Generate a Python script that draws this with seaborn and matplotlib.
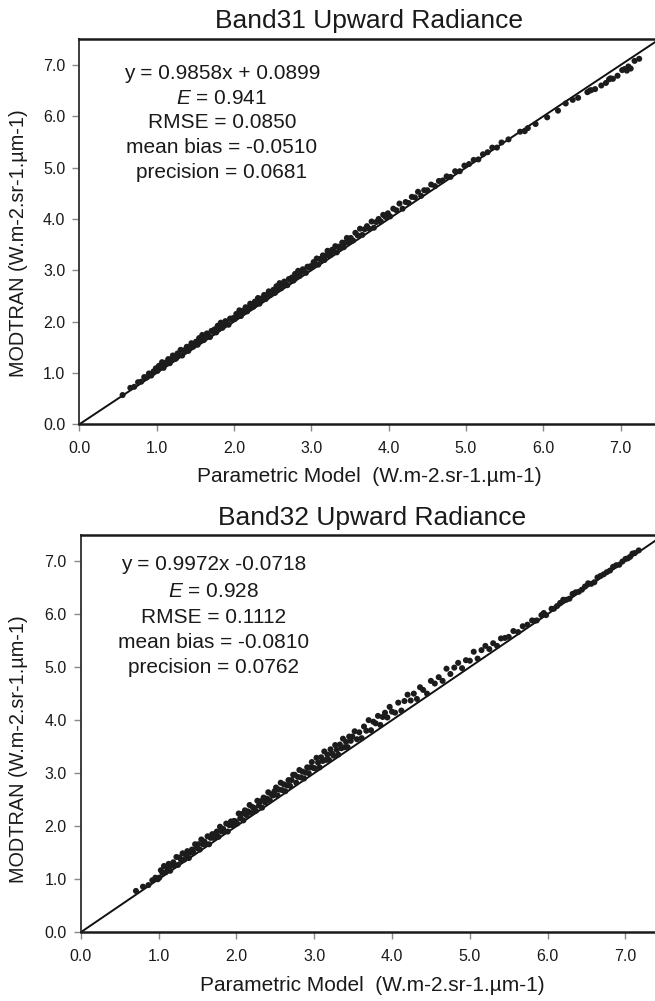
import numpy as np
import pandas as pd
import matplotlib
matplotlib.use("Agg")
import matplotlib.pyplot as plt
import seaborn as sns

# ---------------- data ----------------
titles = ["Band31 Upward Radiance", "Band32 Upward Radiance"]
x_label = "Parametric Model  (W.m-2.sr-1.\u00b5m-1)"
y_label = "MODTRAN (W.m-2.sr-1.\u00b5m-1)"
tick_vals = [0, 1, 2, 3, 4, 5, 6, 7]
axis_lim = [0, 7.5]

stats31 = ["y = 0.9858x + 0.0899", "$E$ = 0.941", "RMSE = 0.0850",
           "mean bias = -0.0510", "precision = 0.0681"]
stats32 = ["y = 0.9972x -0.0718", "$E$ = 0.928", "RMSE = 0.1112",
           "mean bias = -0.0810", "precision = 0.0762"]

# Band31: parametric model (x) vs MODTRAN (y)
x31 = [0.56, 0.66, 0.71, 0.76, 0.80, 0.84, 0.87, 0.90, 0.93, 0.96, 0.99,
       1.01, 1.03, 1.05, 1.07, 1.09, 1.11, 1.13, 1.15, 1.17, 1.19, 1.21, 1.23, 1.25,
       1.27, 1.29, 1.31, 1.33, 1.35, 1.37, 1.39, 1.41, 1.43, 1.45, 1.47, 1.49,
       1.51, 1.53, 1.55, 1.57, 1.59, 1.61, 1.63, 1.65, 1.67, 1.69, 1.71, 1.73, 1.75,
       1.77, 1.79, 1.81, 1.83, 1.85, 1.87, 1.89, 1.91, 1.93, 1.95, 1.97, 1.99,
       2.01, 2.03, 2.05, 2.07, 2.09, 2.11, 2.13, 2.15, 2.17, 2.19, 2.21, 2.23, 2.25,
       2.27, 2.29, 2.31, 2.33, 2.35, 2.37, 2.39, 2.41, 2.43, 2.45, 2.47, 2.49,
       2.51, 2.53, 2.55, 2.57, 2.59, 2.61, 2.63, 2.65, 2.67, 2.69, 2.71, 2.73, 2.75,
       2.77, 2.79, 2.81, 2.83, 2.85, 2.87, 2.89, 2.91, 2.93, 2.95, 2.97, 2.99,
       3.01, 3.03, 3.05, 3.07, 3.09, 3.11, 3.13, 3.15, 3.17, 3.19, 3.21, 3.23,
       3.25, 3.27, 3.29, 3.31, 3.33, 3.35, 3.37, 3.40, 3.42, 3.44, 3.46, 3.48,
       3.51, 3.54, 3.57, 3.60, 3.63, 3.66, 3.69, 3.72, 3.75, 3.78, 3.81, 3.84,
       3.87, 3.90, 3.93, 3.96, 3.99,
       4.02, 4.06, 4.10, 4.14, 4.18, 4.22, 4.26, 4.30, 4.34, 4.38, 4.42, 4.46,
       4.50, 4.55, 4.60, 4.65, 4.70,
       4.75, 4.80, 4.86, 4.92, 4.98, 5.04, 5.10, 5.16, 5.22, 5.28, 5.34, 5.40,
       5.46, 5.55, 5.70, 5.76, 5.80,
       5.90, 6.05, 6.19, 6.29, 6.38, 6.45, 6.57, 6.67, 6.75, 6.81, 6.90, 6.96,
       7.02, 7.08, 7.13, 7.18, 7.24,
       6.60, 6.62, 6.85, 6.87, 7.05, 7.10]
y31 = [0.57, 0.71, 0.73, 0.82, 0.83, 0.92, 0.91, 0.99, 0.95, 1.03, 1.09,
       1.04, 1.14, 1.11, 1.21, 1.10, 1.20, 1.18, 1.27, 1.19, 1.27, 1.34, 1.27, 1.28,
       1.38, 1.35, 1.45, 1.34, 1.44, 1.42, 1.51, 1.43, 1.51, 1.58, 1.51, 1.56,
       1.61, 1.55, 1.68, 1.63, 1.74, 1.64, 1.72, 1.77, 1.72, 1.70, 1.82, 1.80, 1.85,
       1.79, 1.92, 1.87, 1.98, 1.88, 1.96, 2.01, 1.96, 1.94, 2.06, 2.04, 2.07,
       2.05, 2.15, 2.12, 2.22, 2.11, 2.21, 2.19, 2.28, 2.20, 2.28, 2.35, 2.28, 2.29,
       2.39, 2.36, 2.46, 2.35, 2.45, 2.43, 2.52, 2.44, 2.52, 2.59, 2.52, 2.57,
       2.62, 2.56, 2.69, 2.64, 2.75, 2.65, 2.73, 2.78, 2.73, 2.71, 2.83, 2.81, 2.86,
       2.80, 2.93, 2.88, 2.99, 2.89, 2.97, 3.02, 2.97, 2.95, 3.07, 3.05, 3.08,
       3.06, 3.16, 3.13, 3.23, 3.11, 3.22, 3.20, 3.29, 3.20, 3.29, 3.38, 3.29,
       3.30, 3.40, 3.37, 3.47, 3.35, 3.46, 3.44, 3.54, 3.45, 3.54, 3.63, 3.54,
       3.63, 3.58, 3.73, 3.68, 3.81, 3.69, 3.80, 3.86, 3.81, 3.95, 3.83, 3.94,
       4.00, 3.95, 4.08, 4.04, 4.11,
       4.05, 4.20, 4.17, 4.30, 4.20, 4.33, 4.31, 4.43, 4.42, 4.53, 4.45, 4.56,
       4.56, 4.67, 4.64, 4.74, 4.75,
       4.83, 4.82, 4.93, 4.93, 5.04, 5.07, 5.15, 5.16, 5.26, 5.30, 5.39, 5.39,
       5.49, 5.55, 5.70, 5.71, 5.77,
       5.85, 5.98, 6.11, 6.25, 6.32, 6.36, 6.47, 6.53, 6.60, 6.65, 6.73, 6.79,
       6.90, 6.89, 6.93, 7.08, 7.12,
       6.50, 6.51, 6.72, 6.74, 6.92, 6.97]

# Band32: parametric model (x) vs MODTRAN (y)
x32 = [0.71, 0.80, 0.87, 0.92, 0.96, 0.99,
       1.01, 1.03, 1.05, 1.07, 1.09, 1.11, 1.13, 1.15, 1.17, 1.19, 1.21, 1.23, 1.25,
       1.27, 1.29, 1.31, 1.33, 1.35, 1.37, 1.39, 1.41, 1.43, 1.45, 1.47, 1.49,
       1.51, 1.53, 1.55, 1.57, 1.59, 1.61, 1.63, 1.65, 1.67, 1.69, 1.71, 1.73, 1.75,
       1.77, 1.79, 1.81, 1.83, 1.85, 1.87, 1.89, 1.91, 1.93, 1.95, 1.97, 1.99,
       2.01, 2.03, 2.05, 2.07, 2.09, 2.11, 2.13, 2.15, 2.17, 2.19, 2.21, 2.23, 2.25,
       2.27, 2.29, 2.31, 2.33, 2.35, 2.37, 2.39, 2.41, 2.43, 2.45, 2.47, 2.49,
       2.51, 2.53, 2.55, 2.57, 2.59, 2.61, 2.63, 2.65, 2.67, 2.69, 2.71, 2.73, 2.75,
       2.77, 2.79, 2.81, 2.83, 2.85, 2.87, 2.89, 2.91, 2.93, 2.95, 2.97, 2.99,
       3.01, 3.03, 3.05, 3.07, 3.09, 3.11, 3.13, 3.15, 3.17, 3.19, 3.21, 3.23, 3.25,
       3.27, 3.29, 3.31, 3.33, 3.35, 3.37, 3.39, 3.41, 3.43, 3.45, 3.47, 3.49,
       3.52, 3.55, 3.58, 3.61, 3.64, 3.67, 3.70, 3.73, 3.76, 3.79, 3.82, 3.85,
       3.88, 3.91, 3.94, 3.97, 4.00,
       4.04, 4.08, 4.12, 4.16, 4.20, 4.24, 4.28, 4.32, 4.36, 4.40, 4.45, 4.50,
       4.55, 4.60, 4.65, 4.70, 4.75, 4.80,
       4.85, 4.90, 4.95, 5.00, 5.05, 5.10, 5.15, 5.20, 5.25, 5.30, 5.35, 5.40,
       5.45, 5.50, 5.56, 5.62, 5.68, 5.74,
       5.80, 5.86, 5.92, 5.98, 6.05, 6.12, 6.20, 6.28, 6.36, 6.44, 6.52, 6.60,
       6.68, 6.76, 6.84, 6.92, 7.00, 7.06, 7.12, 7.17,
       5.83, 5.95, 6.08, 6.16, 6.24, 6.32, 6.40, 6.48, 6.56, 6.64, 6.72, 6.80,
       6.88, 6.96, 7.03, 7.09]
y32 = [0.78, 0.86, 0.89, 0.98, 1.03, 1.00,
       1.03, 1.17, 1.12, 1.25, 1.13, 1.22, 1.29, 1.16, 1.26, 1.32, 1.26, 1.42, 1.27,
       1.41, 1.36, 1.49, 1.37, 1.46, 1.53, 1.40, 1.50, 1.56, 1.50, 1.66, 1.59,
       1.66, 1.56, 1.75, 1.66, 1.71, 1.66, 1.81, 1.66, 1.78, 1.85, 1.78, 1.86, 1.90,
       1.80, 1.99, 1.90, 1.95, 1.90, 2.05, 1.90, 2.02, 2.09, 2.02, 2.10, 2.09,
       2.05, 2.24, 2.15, 2.23, 2.11, 2.30, 2.21, 2.28, 2.40, 2.25, 2.36, 2.34, 2.29,
       2.48, 2.39, 2.47, 2.35, 2.54, 2.45, 2.52, 2.64, 2.49, 2.60, 2.58, 2.66,
       2.73, 2.58, 2.69, 2.82, 2.68, 2.79, 2.66, 2.77, 2.87, 2.76, 2.87, 2.97, 2.97,
       2.82, 2.93, 3.06, 2.92, 3.03, 2.90, 3.01, 3.11, 3.00, 3.11, 3.21, 3.10,
       3.09, 3.29, 3.20, 3.11, 3.30, 3.23, 3.41, 3.25, 3.35, 3.25, 3.45, 3.37, 3.33,
       3.53, 3.44, 3.35, 3.54, 3.47, 3.65, 3.49, 3.59, 3.49, 3.69, 3.61, 3.69,
       3.79, 3.64, 3.77, 3.66, 3.88, 3.80, 4.00, 3.81, 3.97, 3.94, 4.08, 3.91,
       4.06, 4.14, 4.05, 4.25, 4.16,
       4.14, 4.33, 4.18, 4.36, 4.48, 4.37, 4.50, 4.40, 4.62, 4.57, 4.50, 4.74,
       4.69, 4.81, 4.74, 4.97, 4.87, 4.99,
       5.08, 4.98, 5.13, 5.12, 5.29, 5.16, 5.32, 5.40, 5.34, 5.45, 5.40, 5.54,
       5.55, 5.57, 5.68, 5.66, 5.77, 5.80,
       5.88, 5.88, 5.98, 5.98, 6.10, 6.15, 6.27, 6.29, 6.41, 6.46, 6.58, 6.60,
       6.72, 6.79, 6.89, 6.93, 7.04, 7.08, 7.15, 7.20,
       5.87, 6.02, 6.10, 6.21, 6.27, 6.38, 6.42, 6.52, 6.57, 6.69, 6.75, 6.82,
       6.92, 6.99, 7.05, 7.14]

# ---------------- style ----------------
sns.set_theme(style="white")
plt.rcParams["font.family"] = ["Liberation Sans", "DejaVu Sans"]
plt.rcParams["mathtext.fontset"] = "custom"
plt.rcParams["mathtext.rm"] = "Liberation Sans"
plt.rcParams["mathtext.it"] = "Liberation Sans:italic"

fig = plt.figure(figsize=(6.55, 10.01), dpi=100)
fig.patch.set_facecolor("white")

W, H = 655.0, 1001.0
# axes boxes in pixels: left, top, right, bottom
boxes = [(79.3, 39.3, 659.3, 424.3), (80.7, 534.5, 664.4, 932.3)]
text_x = [0.246, 0.2275]
text_y = [[0.912, 0.847, 0.783, 0.719, 0.653], [0.925, 0.856, 0.792, 0.728, 0.666]]
title_pads = [8, 7]
ylab_pos = [(-0.088, 0.47), (-0.090, 0.46)]
xlab_pos = [(0.5, -0.112), (0.5, -0.110)]

datasets = [(x31, y31, stats31), (x32, y32, stats32)]

for i, ((xs, ys, stats), (l, t, r, b)) in enumerate(zip(datasets, boxes)):
    ax = fig.add_axes([l / W, (H - b) / H, (r - l) / W, (b - t) / H])
    df = pd.DataFrame({"param": xs, "modtran": ys})
    sns.scatterplot(data=df, x="param", y="modtran", ax=ax, marker="o", s=19,
                    color="#1c1c1c", edgecolor="none", linewidth=0, zorder=3)
    ax.axline((axis_lim[0], axis_lim[0]), slope=1, color="#111111", lw=1.4, zorder=2)
    ax.set_xlim(axis_lim)
    ax.set_ylim(axis_lim)
    ax.set_xticks(tick_vals)
    ax.set_yticks(tick_vals)
    ax.set_xticklabels([f"{v:.1f}" for v in tick_vals])
    ax.set_yticklabels([f"{v:.1f}" for v in tick_vals])
    ax.tick_params(axis="both", which="major", direction="out", length=5, width=1,
                   color="#888888", labelsize=11.5, labelcolor="#1a1a1a")
    ax.tick_params(axis="x", pad=7, bottom=True)
    ax.tick_params(axis="y", pad=5, left=True)
    ax.set_xlabel(x_label, fontsize=15, color="#1a1a1a")
    ax.set_ylabel(y_label, fontsize=14.3, color="#1a1a1a")
    ax.xaxis.set_label_coords(*xlab_pos[i])
    ax.yaxis.set_label_coords(*ylab_pos[i])
    ax.set_title(titles[i], fontsize=19, color="#1a1a1a", pad=title_pads[i])
    for name, sp in ax.spines.items():
        sp.set_visible(True)
        sp.set_color("#1a1a1a")
        sp.set_linewidth(1.8)
    ax.spines["left"].set_color("#3c3c3c")
    ax.spines["left"].set_linewidth(1.4)
    for j, line in enumerate(stats):
        ax.text(text_x[i], text_y[i][j], line, transform=ax.transAxes,
                ha="center", va="center", fontsize=15, color="#1a1a1a")

fig.savefig("out.png", dpi=100, facecolor="white")
